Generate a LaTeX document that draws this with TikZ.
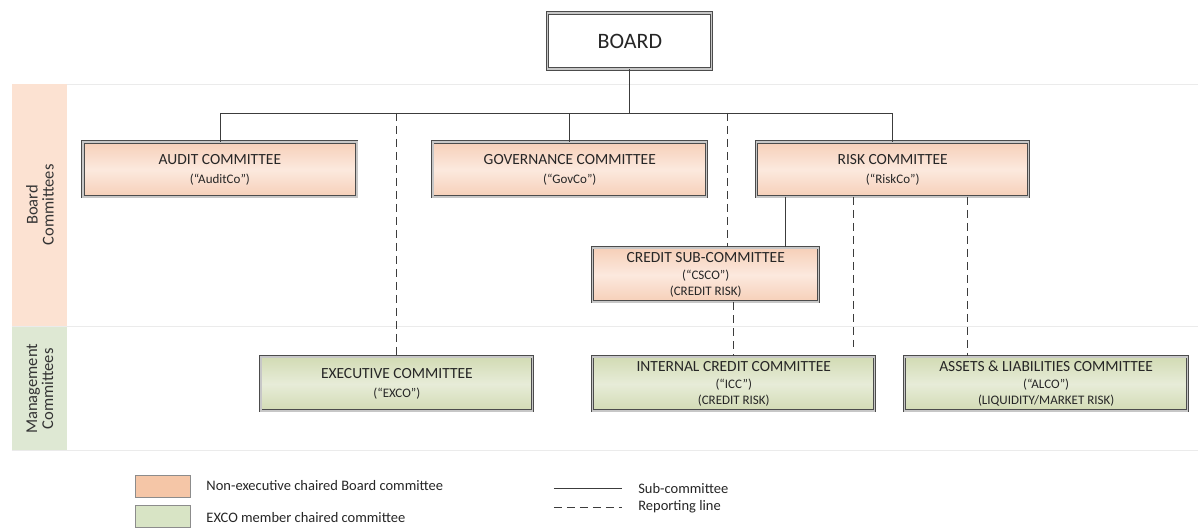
\documentclass[tikz,border=0pt]{standalone}
\usepackage{fontspec}
\setmainfont{Carlito}
\usetikzlibrary{shadows}

\definecolor{orBand}{HTML}{FCE2D2}
\definecolor{grBand}{HTML}{DEE8D3}
\definecolor{orTop}{HTML}{F6CFB8}
\definecolor{orMid}{HTML}{FCE9DE}
\definecolor{grTop}{HTML}{D2DBB4}
\definecolor{grMid}{HTML}{E7ECD8}
\definecolor{orLeg}{HTML}{F5C6A7}
\definecolor{grLeg}{HTML}{D8E4C5}
\definecolor{linie}{HTML}{3C3C3C}

\newcommand{\klein}[1]{{\fontsize{13}{19}\selectfont #1}}

\tikzset{
	gremium/.style={draw=black!70, double=black!22, double distance=1.3pt, line width=0.9pt,
		align=center, inner sep=2pt, minimum height=55, text=black!85,
		font=\fontsize{15.5}{19}\selectfont,
		drop shadow={opacity=0.2, shadow xshift=1.5pt, shadow yshift=-1.5pt}},
	orbox/.style={gremium, top color=orTop, bottom color=orTop, middle color=orMid},
	grbox/.style={gremium, top color=grTop, bottom color=grTop, middle color=grMid},
	sub/.style={draw=linie, line width=0.8pt},
	reportline/.style={draw=linie, line width=0.8pt, dash pattern=on 8pt off 5pt},
	bandline/.style={draw=black!8, line width=0.8pt},
	bandtext/.style={rotate=90, align=center, text=black!80, font=\fontsize{16.5}{16}\selectfont},
	legtext/.style={anchor=west, text=black!85, font=\fontsize{14.5}{16}\selectfont}
}

\begin{document}
\begin{tikzpicture}[x=1pt, y=-1pt]
	\fill[white] (0,0) rectangle (1198,526); % weisser Rand um Grafik

	% Baender links
	\fill[orBand] (12,84) rectangle (67,327);
	\fill[grBand] (12,327) rectangle (67,451);
	\draw[bandline] (67,84) -- (1198,84);
	\draw[bandline] (12,327) -- (1198,327);
	\draw[bandline] (12,451) -- (1198,451);
	\node[bandtext] (bandboard) at (40,205) {Board\\Committees};
	\node[bandtext] (bandmgmt) at (40,389) {Management\\Committees};

	% Gremien
	\node[gremium, fill=white, minimum width=164, minimum height=56, font=\fontsize{22}{24}\selectfont] (board) at (630,41) {BOARD};
	\node[orbox, minimum width=274] (audit) at (220,169.5) {AUDIT COMMITTEE\\\klein{(“AuditCo”)}};
	\node[orbox, minimum width=274] (gov) at (570,169.5) {GOVERNANCE COMMITTEE\\\klein{(“GovCo”)}};
	\node[orbox, minimum width=272] (risk) at (893,169.5) {RISK COMMITTEE\\\klein{(“RiskCo”)}};
	\node[orbox, minimum width=226, minimum height=54] (csco) at (706,275) {CREDIT SUB-COMMITTEE\\[-2pt]\klein{(“CSCO”)}\\[-3pt]\klein{(CREDIT RISK)}};
	\node[grbox, minimum width=272, minimum height=54] (exco) at (397,384) {EXECUTIVE COMMITTEE\\\klein{(“EXCO”)}};
	\node[grbox, minimum width=282, minimum height=54] (icc) at (734,384) {INTERNAL CREDIT COMMITTEE\\[-2pt]\klein{(“ICC”)}\\[-3pt]\klein{(CREDIT RISK)}};
	\node[grbox, minimum width=283, minimum height=54] (alco) at (1046.5,384) {ASSETS \& LIABILITIES COMMITTEE\\[-2pt]\klein{(“ALCO”)}\\[-3pt]\klein{(LIQUIDITY/MARKET RISK)}};

	\coordinate (bus) at (630,113);
	\coordinate (rcsco) at (728,113);
	\coordinate (rsub) at (786,197);
	\coordinate (ricc) at (854,197);
	\coordinate (iccend) at (854,347);
	\coordinate (ralco) at (968,197);

	% Verbindungen
	\draw[sub] (board.south) -- (bus);
	\draw[sub] (audit.north) |- (bus) -| (risk.north);
	\draw[sub] (gov.north) -- (gov.north |- bus);
	\draw[sub] (rsub) -- (rsub |- csco.north);
	\draw[reportline] (exco.north |- bus) -- (exco.north);
	\draw[reportline] (rcsco) -- (rcsco |- csco.north);
	\draw[reportline] (icc.north |- csco.south) -- (icc.north);
	\draw[reportline] (ricc) -- (iccend);
	\draw[reportline] (ralco) -- (ralco |- alco.north);

	% Legende
	\filldraw[fill=orLeg, draw=black!45] (135,475) rectangle (190,497);
	\filldraw[fill=grLeg, draw=black!45] (135,505) rectangle (190,527);
	\node[legtext] (legor) at (203,486) {Non-executive chaired Board committee};
	\node[legtext] (leggr) at (203,518) {EXCO member chaired committee};
	\draw[sub] (554,489) -- (622,489);
	\draw[reportline] (554,508) -- (622,508);
	\node[legtext] (legsub) at (635,489) {Sub-committee};
	\node[legtext] (legrep) at (635,507) {Reporting line};

	%\draw[help lines, step=50] (0,0) grid (1198,526);
\end{tikzpicture}
\end{document}
